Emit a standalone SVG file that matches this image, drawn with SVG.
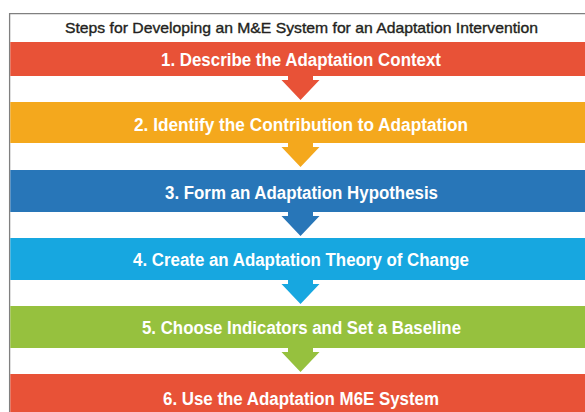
<svg xmlns="http://www.w3.org/2000/svg" width="585" height="412" viewBox="0 0 585 412">
  <style>
    .frame { stroke: #808080; stroke-width: 1.3; fill: none; }
    .title { font-family: "Liberation Sans", Arial, sans-serif; font-size: 15px; fill: #231F20; stroke: #231F20; stroke-width: 0.35; }
    .label { font-family: "Liberation Sans", Arial, sans-serif; font-size: 18px; font-weight: bold; fill: #FFFFFF; text-anchor: middle; }
    .red { fill: #E85237; }
    .orange { fill: #F4A81D; }
    .blue { fill: #2876B8; }
    .cyan { fill: #17A7E0; }
    .green { fill: #96C13E; }
  </style>
  <defs>
    <!-- down arrow: short stem under a band, then a triangular head -->
    <path id="down" d="M288,0 H313 V4 H319.5 L300.5,24 L281.5,4 H288 Z"/>
  </defs>

  <rect x="0" y="0" width="585" height="412" fill="#FFFFFF"/>

  <!-- outer frame: left and top edges -->
  <path class="frame" d="M9.6,412 V13.6 H585"/>

  <text class="title" x="65" y="33" textLength="473" lengthAdjust="spacingAndGlyphs">Steps for Developing an M&amp;E System for an Adaptation Intervention</text>

  <!-- connectors between steps -->
  <g id="connectors">
    <use href="#down" class="red" y="76"/>
    <use href="#down" class="orange" y="143"/>
    <use href="#down" class="blue" y="212"/>
    <use href="#down" class="cyan" y="280"/>
    <use href="#down" class="green" y="348"/>
  </g>

  <g id="step1">
    <rect class="red" x="10.3" y="42" width="575" height="34"/>
    <text class="label" x="301" y="65.5" textLength="280" lengthAdjust="spacingAndGlyphs">1. Describe the Adaptation Context</text>
  </g>
  <g id="step2">
    <rect class="orange" x="10.3" y="102" width="575" height="41"/>
    <text class="label" x="301" y="131" textLength="334" lengthAdjust="spacingAndGlyphs">2. Identify the Contribution to Adaptation</text>
  </g>
  <g id="step3">
    <rect class="blue" x="10.3" y="170" width="575" height="42"/>
    <text class="label" x="301.5" y="198.5" textLength="273" lengthAdjust="spacingAndGlyphs">3. Form an Adaptation Hypothesis</text>
  </g>
  <g id="step4">
    <rect class="cyan" x="10.3" y="238" width="575" height="42"/>
    <text class="label" x="301" y="266" textLength="336" lengthAdjust="spacingAndGlyphs">4. Create an Adaptation Theory of Change</text>
  </g>
  <g id="step5">
    <rect class="green" x="10.3" y="306" width="575" height="42"/>
    <text class="label" x="301.5" y="333.5" textLength="319" lengthAdjust="spacingAndGlyphs">5. Choose Indicators and Set a Baseline</text>
  </g>
  <g id="step6">
    <rect class="red" x="10.3" y="374" width="575" height="38"/>
    <text class="label" x="301" y="404.5" textLength="276" lengthAdjust="spacingAndGlyphs">6. Use the Adaptation M6E System</text>
  </g>
</svg>
